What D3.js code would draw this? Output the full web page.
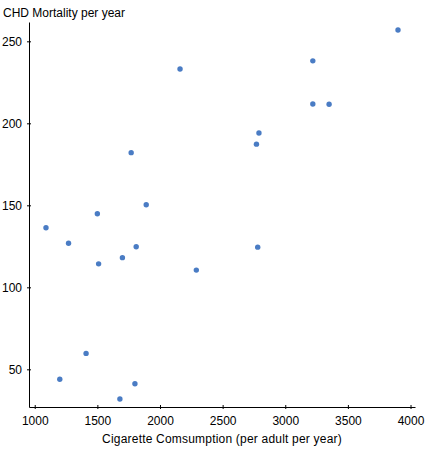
<!DOCTYPE html>
<meta charset="utf-8">
<script src="https://d3js.org/d3.v7.min.js"></script>
<style>
  body { margin: 0; background: #fff; }
  text { font-family: "Liberation Sans", Arial, sans-serif; }
</style>
<div id="chart"></div>
<script>
// cigarette consumption per adult per year, one value per country
var cigarettes = [3900, 3350, 3220, 3220, 2790, 2780, 2770, 2290, 2160, 1890, 1810,
                  1800, 1770, 1700, 1680, 1510, 1500, 1410, 1270, 1200, 1090];
// CHD mortality per year, same order
var chd = [256.9, 211.6, 238.1, 211.8, 194.1, 124.5, 187.3, 110.5, 233.1, 150.3, 124.7,
           41.2, 182.1, 118.1, 31.9, 114.3, 144.9, 59.7, 126.9, 43.9, 136.3];
var xTicks = [1000, 1500, 2000, 2500, 3000, 3500, 4000];
var yTicks = [50, 100, 150, 200, 250];

var W = 434, H = 450;
var margin = {top: 22, right: 19, bottom: 43, left: 29};
var width = W - margin.left - margin.right,
    height = H - margin.top - margin.bottom;

var svg = d3.select("#chart").append("svg")
    .attr("width", W).attr("height", H);
var g = svg.append("g")
    .attr("transform", "translate(" + margin.left + "," + margin.top + ")");

// small pixel padding around the data, like the original
var padX = 17, padY = 8;
var x = d3.scaleLinear()
    .domain(d3.extent(cigarettes))
    .range([padX, width - padX]);
var y = d3.scaleLinear()
    .domain(d3.extent(chd))
    .range([height - padY, padY]);

// X axis
var xAxis = g.append("g")
    .attr("transform", "translate(0," + height + ")")
    .call(d3.axisBottom(x).tickValues(xTicks).tickFormat(d3.format("d"))
      .tickSize(0).tickPadding(9));
xAxis.select(".domain").attr("d", "M0.5,0.5H" + (width + 0.5));
xAxis.selectAll(".tick line").attr("y1", -2).attr("y2", 2);

// Y axis
var yAxis = g.append("g")
    .call(d3.axisLeft(y).tickValues(yTicks).tickFormat(d3.format("d"))
      .tickSize(0).tickPadding(7));
yAxis.select(".domain").attr("d", "M0.5,0.5V" + (height + 0.5));
yAxis.selectAll(".tick line").attr("x1", -2).attr("x2", 2);

g.selectAll(".tick text").attr("font-size", 12).attr("fill", "#000")
  .attr("font-family", "Liberation Sans, Arial, sans-serif");
g.selectAll(".domain, .tick line").attr("stroke", "#000");

// points
g.selectAll("circle.pt")
  .data(cigarettes)
  .enter().append("circle")
    .attr("class", "pt")
    .attr("cx", function(d) { return x(d); })
    .attr("cy", function(d, i) { return y(chd[i]); })
    .attr("r", 2.7)
    .attr("fill", "#4a7cc4");

// labels
svg.append("text")
  .attr("x", 3).attr("y", 17)
  .attr("font-size", 12)
  .text("CHD Mortality per year");

svg.append("text")
  .attr("x", margin.left + width / 2).attr("y", 443)
  .attr("text-anchor", "middle")
  .attr("font-size", 12)
  .attr("letter-spacing", 0.2)
  .text("Cigarette Comsumption (per adult per year)");
</script>
